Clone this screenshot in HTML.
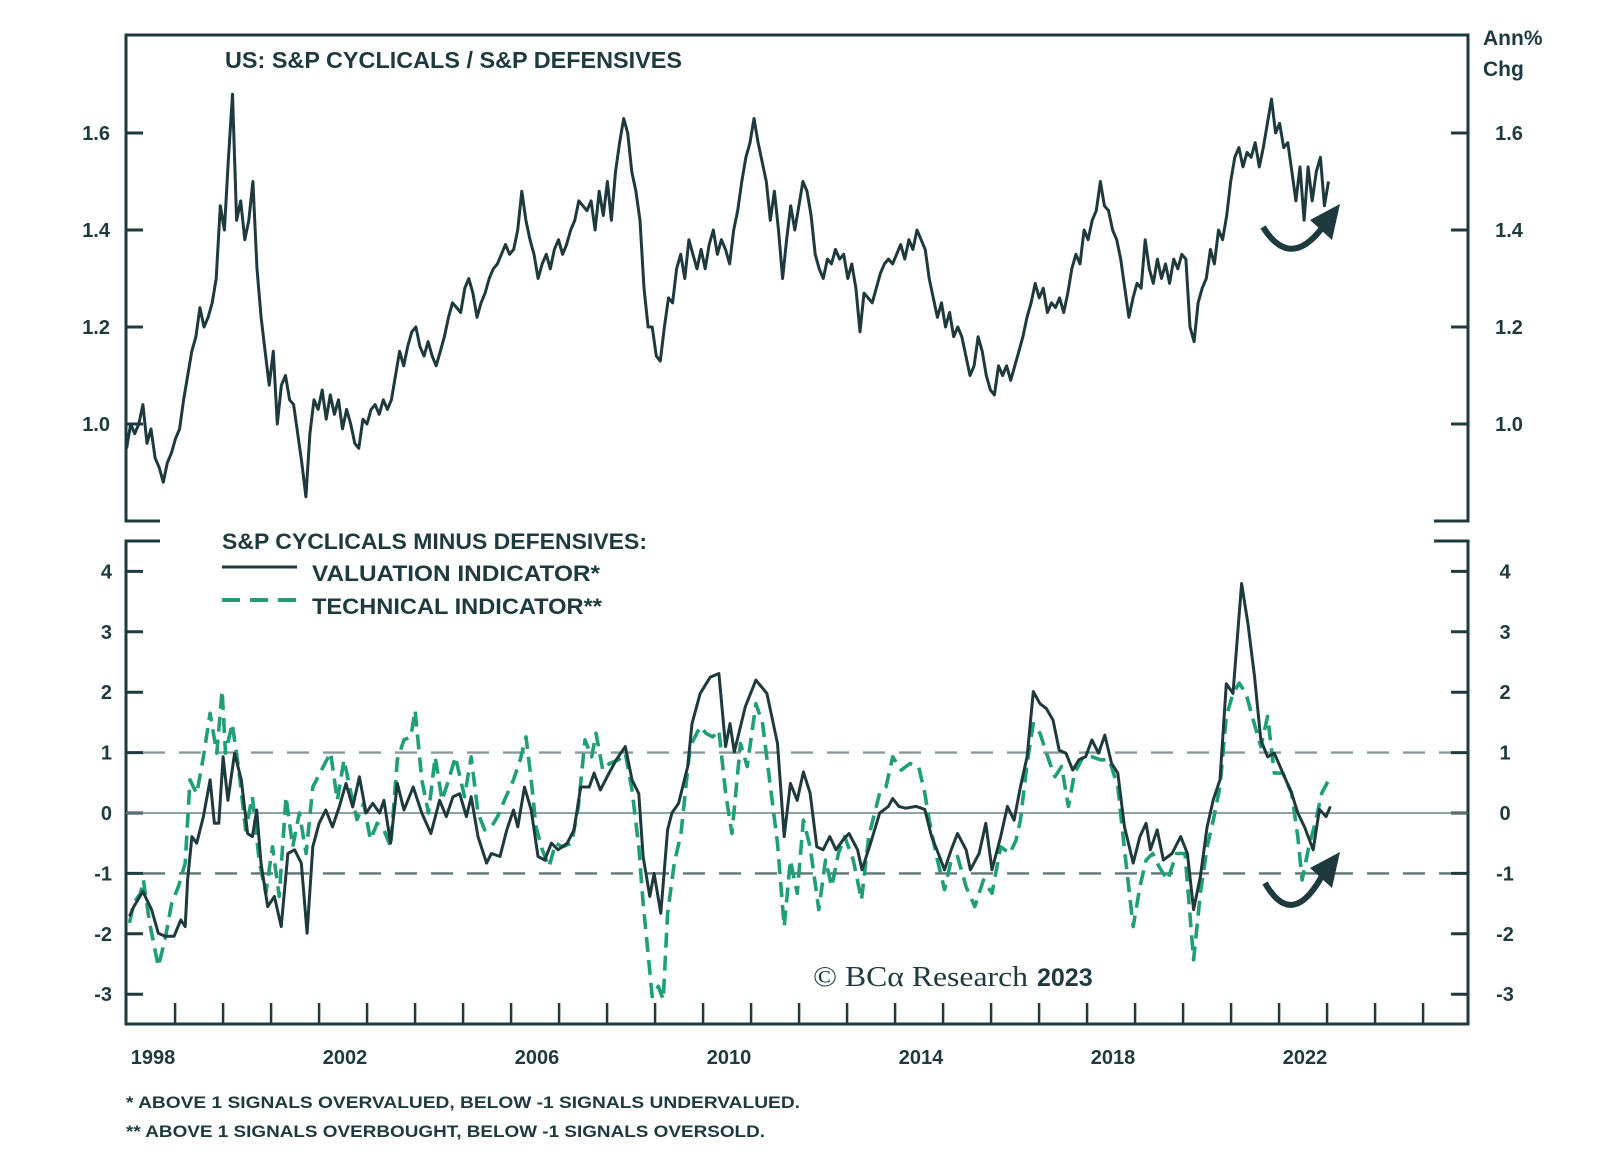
<!DOCTYPE html>
<html><head><meta charset="utf-8"><style>
html,body{margin:0;padding:0;background:#fff;}
svg{display:block;}
text{font-family:"Liberation Sans",sans-serif;fill:#1e3a3e;}
</style></head><body>
<svg id="chart" width="1600" height="1160" viewBox="0 0 1600 1160" xmlns="http://www.w3.org/2000/svg">
<g id="frame"></g>
<g id="upper"></g>
<g id="lower"></g>
<text x="225" y="68" font-size="23" font-weight="bold" textLength="457" lengthAdjust="spacingAndGlyphs">US: S&amp;P CYCLICALS / S&amp;P DEFENSIVES</text>
<text x="1483" y="45" font-size="21" font-weight="bold">Ann%</text>
<text x="1483" y="76" font-size="21" font-weight="bold">Chg</text>
<text x="222" y="549" font-size="22" font-weight="bold" textLength="425" lengthAdjust="spacingAndGlyphs">S&amp;P CYCLICALS MINUS DEFENSIVES:</text>
<line x1="222" y1="567" x2="297" y2="567" stroke="#1e3a3e" stroke-width="3"/>
<text x="312" y="581" font-size="22" font-weight="bold" textLength="288" lengthAdjust="spacingAndGlyphs">VALUATION INDICATOR*</text>
<line x1="222" y1="600" x2="297" y2="600" stroke="#1f9e78" stroke-width="4" stroke-dasharray="18,10"/>
<text x="312" y="614" font-size="22" font-weight="bold" textLength="290" lengthAdjust="spacingAndGlyphs">TECHNICAL INDICATOR**</text>
<text x="813" y="986" font-size="29" style="font-family:'Liberation Serif',serif" textLength="215" lengthAdjust="spacingAndGlyphs">© BCα Research</text>
<text x="1037" y="986" font-size="25" font-weight="bold">2023</text>
<text x="126" y="1108" font-size="17" font-weight="bold" textLength="674" lengthAdjust="spacingAndGlyphs">*  ABOVE 1 SIGNALS OVERVALUED, BELOW -1 SIGNALS UNDERVALUED.</text>
<text x="126" y="1137" font-size="17" font-weight="bold" textLength="639" lengthAdjust="spacingAndGlyphs">** ABOVE 1 SIGNALS OVERBOUGHT, BELOW -1 SIGNALS OVERSOLD.</text>
</svg>
<script>
const ratioStart = 1997.45;
const ratioEnd = 2022.49;
const ratioValues = [0.95,1.00,0.98,1.00,1.04,0.96,0.99,0.93,0.91,0.88,0.92,0.94,0.97,0.99,1.05,1.10,1.15,1.18,1.24,1.20,1.22,1.25,1.30,1.45,1.40,1.55,1.68,1.42,1.46,1.38,1.42,1.50,1.32,1.22,1.15,1.08,1.15,1.00,1.08,1.10,1.05,1.04,0.98,0.92,0.85,
0.98,1.05,1.03,1.07,1.01,1.06,1.02,1.05,0.99,1.03,1.00,0.96,0.95,1.01,1.00,1.03,1.04,1.02,1.05,1.03,1.05,1.10,1.15,1.12,
1.16,1.19,1.20,1.16,1.14,1.17,1.14,1.12,1.15,1.18,1.22,1.25,1.24,1.23,1.28,1.30,1.27,1.22,1.25,1.27,1.30,1.32,1.33,1.35,1.37,1.35,1.36,1.40,1.48,1.42,1.38,1.35,1.30,1.33,1.35,1.32,1.36,1.38,1.35,1.37,1.40,1.42,1.46,1.45,1.44,1.46,1.40,1.48,1.43,1.50,1.42,1.52,1.58,1.63,1.60,1.52,1.48,1.42,1.28,1.20,1.20,1.14,1.13,1.20,1.26,1.25,1.32,1.35,1.30,1.38,1.35,1.32,1.36,1.32,1.37,1.40,1.35,1.38,1.36,1.33,1.40,1.44,1.50,1.55,1.58,1.63,1.58,1.54,1.50,1.42,1.48,1.40,1.30,1.38,1.45,1.40,1.45,1.50,1.48,1.43,1.35,1.32,1.30,1.34,1.33,1.36,1.34,1.35,1.30,1.33,1.28,1.19,1.27,1.26,
1.25,1.28,1.31,1.33,1.34,1.33,1.35,1.37,1.34,1.38,1.36,1.40,1.38,1.36,1.30,1.26,1.22,1.25,1.20,1.23,1.18,1.20,1.18,1.14,1.10,1.12,1.18,1.15,1.10,1.07,1.06,1.12,1.10,1.12,1.09,1.12,1.15,1.18,1.22,1.25,1.29,1.26,1.28,1.23,1.25,1.24,1.26,1.23,1.27,1.32,1.35,1.33,1.40,1.38,1.42,1.44,1.50,1.45,1.44,1.40,1.38,1.34,1.28,1.22,1.26,1.29,1.28,1.38,1.32,1.29,1.34,1.30,1.33,1.29,1.34,1.32,1.35,1.34,
1.20,1.17,1.25,1.28,1.30,1.36,1.33,1.40,1.38,1.43,1.50,1.55,1.57,1.53,1.56,1.55,1.58,1.53,1.57,1.62,1.67,1.60,1.62,1.57,1.58,1.52,1.46,1.53,1.42,1.53,1.46,1.52,1.55,1.45,1.50];
const valDates = [1997.51,1997.60,1997.79,1997.97,1998.11,1998.25,1998.44,1998.58,1998.67,1998.72,1998.81,1998.91,1999.05,1999.19,1999.28,1999.37,1999.46,1999.56,1999.70,1999.84,1999.97,2000.07,2000.16,2000.25,2000.39,2000.53,2000.67,2000.81,2000.95,2001.09,2001.21,2001.33,2001.46,2001.60,2001.74,2001.88,2002.02,2002.16,2002.30,2002.44,2002.58,2002.72,2002.81,2002.95,2003.09,2003.23,2003.42,2003.60,2003.79,2003.97,2004.11,2004.25,2004.39,2004.53,2004.63,2004.77,2004.95,2005.05,2005.23,2005.37,2005.51,2005.60,2005.74,2005.88,2006.02,2006.16,2006.30,2006.44,2006.63,2006.77,2006.91,2007.09,2007.19,2007.32,2007.46,2007.65,2007.84,2007.98,2008.12,2008.21,2008.35,2008.44,2008.58,2008.72,2008.81,2008.95,2009.14,2009.23,2009.40,2009.61,2009.79,2009.93,2010.02,2010.11,2010.34,2010.56,2010.79,2011.01,2011.15,2011.28,2011.42,2011.55,2011.69,2011.83,2011.96,2012.10,2012.23,2012.37,2012.50,2012.68,2012.77,2012.95,2013.14,2013.32,2013.41,2013.54,2013.68,2013.90,2014.08,2014.22,2014.36,2014.49,2014.63,2014.76,2014.94,2015.03,2015.21,2015.35,2015.48,2015.66,2015.80,2015.94,2016.07,2016.21,2016.34,2016.48,2016.61,2016.75,2016.88,2017.02,2017.16,2017.29,2017.43,2017.56,2017.70,2017.83,2017.97,2018.10,2018.24,2018.42,2018.56,2018.69,2018.78,2018.92,2019.05,2019.23,2019.41,2019.55,2019.68,2019.82,2019.96,2020.09,2020.23,2020.36,2020.50,2020.68,2020.81,2020.95,2021.08,2021.22,2021.36,2021.54,2021.72,2021.85,2021.99,2022.17,2022.30,2022.44,2022.53];
const valValues = [-1.71,-1.55,-1.30,-1.60,-1.99,-2.04,-2.04,-1.77,-1.88,-1.11,-0.39,-0.50,-0.06,0.55,-0.17,-0.17,0.93,0.21,0.99,0.55,-0.34,-0.39,0.05,-0.83,-1.55,-1.38,-1.88,-0.67,-0.61,-0.83,-1.99,-0.56,-0.17,0.05,-0.23,0.10,0.49,0.10,0.60,0.00,0.16,0.00,0.21,-0.50,0.49,0.05,0.43,0.00,-0.34,0.21,-0.06,0.27,0.32,-0.06,0.27,-0.39,-0.83,-0.67,-0.72,-0.28,0.05,-0.23,0.43,0.05,-0.72,-0.78,-0.50,-0.61,-0.50,-0.28,0.43,0.43,0.66,0.38,0.60,0.88,1.10,0.55,0.32,-0.72,-1.38,-1.00,-1.66,-0.28,0.00,0.16,0.77,1.48,1.98,2.25,2.31,1.10,1.48,1.01,1.76,2.20,1.98,1.15,-0.39,0.49,0.21,0.68,0.33,-0.56,-0.61,-0.39,-0.61,-0.45,-0.34,-0.61,-0.94,-0.50,0.00,0.11,0.24,0.11,0.08,0.11,0.06,-0.39,-0.67,-0.94,-0.61,-0.34,-0.61,-0.94,-0.67,-0.17,-0.94,-0.39,0.11,-0.12,0.43,0.93,2.01,1.81,1.73,1.54,1.04,0.99,0.71,0.88,0.93,1.21,0.99,1.29,0.82,0.66,-0.23,-0.83,-0.39,-0.17,-0.61,-0.28,-0.78,-0.67,-0.39,-0.67,-1.60,-1.05,-0.23,0.22,0.55,2.14,1.98,3.80,3.14,2.25,1.21,0.93,0.99,0.66,0.33,0.00,-0.23,-0.61,0.06,-0.06,0.11];
const techDates = [1997.51,1997.60,1997.74,1997.80,1997.93,1998.11,1998.25,1998.39,1998.53,1998.67,1998.77,1998.91,1999.05,1999.19,1999.33,1999.44,1999.51,1999.65,1999.79,1999.93,2000.07,2000.21,2000.35,2000.49,2000.63,2000.77,2000.91,2001.05,2001.19,2001.33,2001.51,2001.70,2001.84,2001.98,2002.11,2002.25,2002.39,2002.53,2002.67,2002.81,2002.95,2003.09,2003.23,2003.37,2003.46,2003.60,2003.74,2003.88,2004.02,2004.16,2004.30,2004.49,2004.63,2004.77,2004.91,2005.05,2005.18,2005.32,2005.51,2005.65,2005.77,2005.88,2005.98,2006.11,2006.25,2006.39,2006.53,2006.72,2006.86,2007.00,2007.14,2007.23,2007.37,2007.51,2007.70,2007.84,2007.98,2008.12,2008.21,2008.30,2008.40,2008.53,2008.63,2008.72,2008.86,2009.00,2009.19,2009.40,2009.52,2009.66,2009.79,2009.93,2010.06,2010.24,2010.38,2010.56,2010.70,2010.88,2011.01,2011.15,2011.28,2011.42,2011.55,2011.69,2011.87,2012.01,2012.14,2012.28,2012.41,2012.59,2012.76,2012.91,2013.14,2013.27,2013.41,2013.59,2013.77,2013.95,2014.08,2014.17,2014.31,2014.49,2014.63,2014.76,2014.94,2015.12,2015.30,2015.48,2015.66,2015.85,2015.98,2016.07,2016.21,2016.34,2016.48,2016.66,2016.79,2016.93,2017.07,2017.20,2017.38,2017.56,2017.74,2017.92,2018.10,2018.24,2018.42,2018.56,2018.69,2018.83,2018.96,2019.14,2019.32,2019.50,2019.68,2019.82,2019.96,2020.09,2020.23,2020.36,2020.50,2020.63,2020.77,2020.90,2021.08,2021.22,2021.36,2021.54,2021.72,2021.85,2021.94,2022.08,2022.21,2022.35,2022.53];
const techValues = [-1.82,-1.49,-1.33,-1.11,-1.82,-2.54,-2.10,-1.49,-1.22,-0.83,0.55,0.32,0.93,1.65,0.99,2.03,0.99,1.48,0.71,-0.28,0.27,-0.78,-1.33,-0.56,-1.38,0.27,-0.56,0.00,-0.67,0.43,0.71,1.00,0.21,0.88,0.38,-0.11,0.16,-0.44,-0.17,-0.28,-0.56,0.88,1.21,1.26,1.70,0.55,0.00,0.93,0.21,0.55,0.93,0.27,0.93,0.00,-0.28,-0.23,-0.06,0.21,0.55,0.88,1.26,0.55,-0.23,-0.61,-0.89,-0.50,-0.56,-0.50,0.10,1.21,0.93,1.32,0.71,0.82,0.88,0.99,0.38,-0.56,-1.49,-2.21,-3.04,-2.87,-3.09,-1.66,-0.83,-0.34,1.10,1.43,1.32,1.26,1.37,0.33,-0.34,1.15,0.77,1.81,1.48,0.33,-0.50,-1.88,-0.78,-1.33,-0.12,-0.56,-1.60,-0.78,-1.22,-0.67,-0.39,-0.78,-1.44,-0.39,0.33,0.43,0.93,0.71,0.82,0.77,0.33,-0.12,-0.67,-1.27,-0.78,-0.72,-1.22,-1.55,-1.11,-1.33,-0.56,-0.67,-0.45,-0.12,0.82,1.48,1.32,0.88,0.60,0.77,0.11,0.66,0.93,0.93,0.88,0.88,0.44,-0.61,-1.88,-1.22,-0.78,-0.67,-0.89,-1.11,-0.67,-0.67,-2.43,-1.33,-0.56,-0.12,0.44,1.60,1.98,2.15,1.98,1.60,1.10,1.60,0.66,0.66,0.33,-0.39,-1.11,-0.56,-0.17,0.33,0.60];
const xTickYears = [1998,2002,2006,2010,2014,2018,2022];
const upperTicks = [1.0,1.2,1.4,1.6];
const upperTickLabels = ["1.0","1.2","1.4","1.6"];
const lowerTicks = [4,3,2,1,0,-1,-2,-3];
const lowerTickLabels = ["4","3","2","1","0","-1","-2","-3"];

const NS = "http://www.w3.org/2000/svg";
const DARK = "#1e3a3e", GREEN = "#1f9e78";
const L = 126, R = 1468;
const UT = 35, UB = 521, LT = 541, LB = 1024;
const xs = t => 153 + (t - 1998) * 48;
const yu = v => 521 - (v - 0.8) * 485;
const yl = v => 813 - v * 60.4;

function mk(tag, attrs, parent) {
  const e = document.createElementNS(NS, tag);
  for (const k in attrs) e.setAttribute(k, attrs[k]);
  parent.appendChild(e);
  return e;
}
const frame = document.getElementById('frame');
const upper = document.getElementById('upper');
const lower = document.getElementById('lower');
const fs = {stroke: DARK, "stroke-width": 3, fill: "none"};

let e;
e = mk('path', Object.assign({d: `M${L+34},${UB} H${L} V${UT} H${R} V${UB} H${R-34}`}, fs), frame);


e = mk('path', Object.assign({d: `M${L+34},${LT} H${L} V${LB} H${R} V${LT} H${R-34}`}, fs), frame);



upperTicks.forEach((v, i) => {
  const y = yu(v);
  let t = mk('line', {x1: L, x2: L + 17, y1: y, y2: y, stroke: DARK, "stroke-width": 3}, upper);
  
  
  t = mk('line', {x1: R - 17, x2: R, y1: y, y2: y, stroke: DARK, "stroke-width": 3}, upper);
  
  
  let tx = mk('text', {x: 110, y: y + 7, "font-size": 20, "font-weight": "bold", "text-anchor": "end"}, upper);
  tx.textContent = upperTickLabels[i];
  
  
  tx = mk('text', {x: 1509, y: y + 7, "font-size": 20, "font-weight": "bold", "text-anchor": "middle"}, upper);
  tx.textContent = upperTickLabels[i];
  
  
});

const n = ratioValues.length;
let d = ratioValues.map((v, i) => {
  const t = ratioStart + (ratioEnd - ratioStart) * i / (n - 1);
  return (i ? 'L' : 'M') + xs(t).toFixed(1) + ',' + yu(v).toFixed(1);
}).join('');
e = mk('path', {d: d, stroke: DARK, "stroke-width": 3, fill: "none", "stroke-linejoin": "round"}, upper);



lowerTicks.forEach((v, i) => {
  const y = yl(v);
  let t = mk('line', {x1: L, x2: L + 17, y1: y, y2: y, stroke: DARK, "stroke-width": 3}, lower);
  
  
  t = mk('line', {x1: R - 17, x2: R, y1: y, y2: y, stroke: DARK, "stroke-width": 3}, lower);
  
  
  let tx = mk('text', {x: 112, y: y + 7, "font-size": 20, "font-weight": "bold", "text-anchor": "end"}, lower);
  tx.textContent = lowerTickLabels[i];
  
  
  tx = mk('text', {x: 1505, y: y + 7, "font-size": 20, "font-weight": "bold", "text-anchor": "middle"}, lower);
  tx.textContent = lowerTickLabels[i];
  
  
});
e = mk('line', {x1: L, x2: R, y1: yl(0), y2: yl(0), stroke: "#6f8383", "stroke-width": 1.6}, lower);


e = mk('line', {x1: L + 17, x2: R - 17, y1: yl(1), y2: yl(1), stroke: "#8c9999", "stroke-width": 2.4, "stroke-dasharray": "22,14"}, lower);


e = mk('line', {x1: L + 17, x2: R - 17, y1: yl(-1), y2: yl(-1), stroke: "#5f7373", "stroke-width": 2.4, "stroke-dasharray": "22,14"}, lower);



for (let k = 0; k < 27; k++) {
  const x = xs(1998.46 + k);
  if (x > R - 10) break;
  const t = mk('line', {x1: x, x2: x, y1: 1003, y2: LB, stroke: DARK, "stroke-width": 2.5}, lower);
  
  
}
xTickYears.forEach(yr => {
  const tx = mk('text', {x: xs(yr), y: 1064, "font-size": 20, "font-weight": "bold", "text-anchor": "middle"}, lower);
  tx.textContent = String(yr);
  
  
});

function linePath(dates, vals) {
  return vals.map((v, i) => (i ? 'L' : 'M') + xs(dates[i]).toFixed(1) + ',' + yl(v).toFixed(1)).join('');
}
e = mk('path', {d: linePath(techDates, techValues), stroke: GREEN, "stroke-width": 3.6, fill: "none", "stroke-dasharray": "15,8", "stroke-linejoin": "round"}, lower);


e = mk('path', {d: linePath(valDates, valValues), stroke: DARK, "stroke-width": 3, fill: "none", "stroke-linejoin": "round"}, lower);



function arrow(sx, sy, bx, by, ex, ey, name, parent) {
  const g = mk('g', {}, parent);
  
  
  mk('path', {d: `M${sx},${sy} Q${bx},${by} ${ex - 8},${ey + 10}`, stroke: DARK, "stroke-width": 6, fill: "none"}, g);
  mk('polygon', {points: `${ex + 10},${ey - 14} ${ex - 20},${ey + 2} ${ex + 2},${ey + 22}`, fill: DARK}, g);
}
arrow(1263, 227, 1290, 270, 1330, 218, 'upper-reversal-arrow', upper);
arrow(1265, 883, 1292, 930, 1330, 866, 'lower-reversal-arrow', lower);
</script>
</body></html>
